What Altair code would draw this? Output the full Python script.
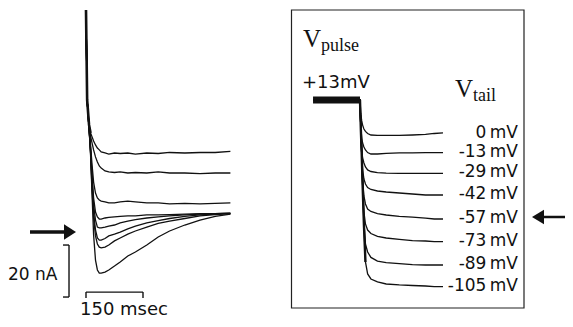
import altair as alt
import pandas as pd

# ---------------- Left panel: tail currents (nA) vs time (ms) ----------------
t_ms = [0, 3, 8, 12, 16, 20, 25, 30, 35, 40, 50, 60, 75, 90, 110, 130, 160, 190, 220, 260, 300, 340, 380]

i_0mV    = [85.0, 50.4, 40.8, 37.7, 36.2, 34.6, 33.1, 31.9, 31.2, 30.4, 30.0, 29.6, 30.0, 29.8, 30.0, 29.6, 30.0, 29.8, 30.2, 30.0, 30.2, 30.2, 30.6]
i_m13mV  = [85.0, 50.4, 40.8, 36.5, 33.8, 31.2, 28.5, 26.5, 25.0, 24.2, 23.1, 22.7, 22.5, 22.7, 22.3, 22.5, 22.3, 22.7, 22.3, 22.3, 22.1, 22.3, 22.3]
i_m29mV  = [85.0, 50.4, 39.6, 33.1, 25.4, 18.8, 14.6, 12.7, 11.9, 11.5, 11.2, 10.8, 10.8, 11.2, 11.5, 11.2, 10.8, 10.8, 10.4, 10.6, 10.4, 10.6, 10.8]
i_m42mV  = [85.0, 50.4, 39.6, 31.9, 21.5, 12.7, 7.3, 5.4, 4.6, 4.6, 5.0, 5.2, 5.4, 5.6, 5.8, 5.8, 6.2, 6.2, 6.3, 6.5, 6.7, 6.7, 6.9]
i_m57mV  = [85.0, 50.4, 39.6, 31.2, 19.6, 10.0, 4.2, 1.5, 1.2, 1.2, 1.5, 1.9, 2.3, 3.1, 3.8, 4.4, 5.0, 5.4, 5.8, 6.2, 6.5, 6.7, 6.9]
i_m73mV  = [85.0, 50.4, 39.6, 30.4, 17.7, 7.3, 0.4, -2.7, -3.5, -3.5, -2.9, -1.9, -1.2, -0.4, 0.8, 1.9, 3.1, 4.0, 4.8, 5.6, 6.2, 6.5, 6.7]
i_m89mV  = [85.0, 50.4, 39.6, 30.0, 15.8, 5.0, -1.9, -5.0, -6.2, -6.5, -6.2, -5.4, -3.8, -2.7, -1.2, 0.0, 1.5, 2.9, 3.8, 4.8, 5.8, 6.3, 6.7]
i_m105mV = [85.0, 50.4, 39.6, 29.2, 13.8, -1.5, -11.2, -15.0, -16.2, -16.2, -15.8, -15.0, -13.5, -11.9, -9.6, -8.1, -5.4, -2.3, 0.0, 2.3, 4.2, 5.6, 6.5]

zero_current_nA = -0.4        # level marked by the left arrow
scale_time_ms = 150           # time scale bar
scale_current_nA = 20         # current scale bar

# ---------------- Right panel: voltage protocol (mV) vs time (ms) ----------------
vt_ms = [-215, 0, 4, 8, 12, 18, 25, 35, 50, 80, 120, 180, 240, 300, 340, 380]

v_0mV    = [13, 13, 7.3, 5.0, 3.4, 1.9, 1.0, 0.2, -0.7, -1.0, -1.0, -1.0, -0.7, -0.3, 0.2, 0.4]
v_m13mV  = [13, 13, 2.3, -2.8, -6.3, -9.0, -11.1, -12.9, -14.0, -14.0, -13.6, -13.2, -13.2, -13, -13, -13]
v_m29mV  = [13, 13, 1.5, -11.1, -17.1, -21.0, -24.1, -26.4, -27.6, -28.4, -28.8, -29, -29, -29, -29, -29]
v_m42mV  = [13, 13, 1.5, -14.8, -26.4, -32.4, -35.4, -37.5, -38.7, -39.6, -40.2, -40.8, -41.4, -42, -42, -42]
v_m57mV  = [13, 13, 1.5, -14.8, -33.0, -42.6, -47.6, -50.8, -52.3, -53.6, -54.5, -55.4, -55.8, -56.4, -57, -57]
v_m73mV  = [13, 13, 1.5, -14.8, -34.8, -52.6, -60.5, -64.8, -67.2, -69.3, -70.4, -71.4, -72.2, -72.5, -73, -73]
v_m89mV  = [13, 13, 1.5, -14.8, -36.0, -59.1, -74.6, -80.1, -83.8, -86.3, -87.3, -88.0, -88.7, -89, -89, -89]
v_m105mV = [13, 13, 1.5, -14.8, -36.0, -61.2, -86.9, -95.6, -99.3, -101.5, -103.0, -103.7, -104.1, -104.5, -105, -105]

tail_levels = [0, -13, -29, -42, -57, -73, -89, -105]
tail_labels = ["0\u2009mV", "-13\u2009mV", "-29\u2009mV", "-42\u2009mV", "-57\u2009mV", "-73\u2009mV", "-89\u2009mV", "-105\u2009mV"]
pulse_mV = 13
pulse_start_ms = -215
arrow_level_mV = -57

# ---------------- build tables ----------------
cur_series = [i_0mV, i_m13mV, i_m29mV, i_m42mV, i_m57mV, i_m73mV, i_m89mV, i_m105mV]
volt_series = [v_0mV, v_m13mV, v_m29mV, v_m42mV, v_m57mV, v_m73mV, v_m89mV, v_m105mV]

cur_rows = []
for lab, s in zip(tail_labels, cur_series):
    for t, v in zip(t_ms, s):
        cur_rows.append({"trace": lab, "t": t, "I": v})
cur_df = pd.DataFrame(cur_rows)

volt_rows = []
for lab, s in zip(tail_labels, volt_series):
    for t, v in zip(vt_ms, s):
        volt_rows.append({"trace": lab, "t": t, "V": v})
volt_df = pd.DataFrame(volt_rows)

W, H = 557, 311
BLACK = "#111111"
SANS = "DejaVu Sans"
SERIF = "Liberation Serif"
one = pd.DataFrame({"k": [0]})

# ---------------- left panel (own scales) ----------------
xL = alt.Scale(domain=[-205.26, 1260.53], nice=False, zero=False)
yL = alt.Scale(domain=[-33.85, 85.77], nice=False, zero=False)

traces_L = alt.Chart(cur_df).mark_line(color=BLACK, strokeWidth=1.3).encode(
    x=alt.X("t:Q", scale=xL, axis=None),
    y=alt.Y("I:Q", scale=yL, axis=None),
    detail="trace:N",
    order=alt.Order("t:Q"),
)
spike_L = alt.Chart(cur_df).transform_filter(
    (alt.datum.t <= 12) & (alt.datum.trace == tail_labels[0])
).mark_line(color=BLACK, strokeWidth=2.6).encode(
    x=alt.X("t:Q", scale=xL, axis=None),
    y=alt.Y("I:Q", scale=yL, axis=None),
    order=alt.Order("t:Q"),
)

vbar_t = -44.7
vbar_top = -5.4
hbar_I = -23.5
tick_t = -60.5
bars_df = pd.DataFrame([
    {"t1": vbar_t, "t2": vbar_t, "i1": vbar_top, "i2": vbar_top - scale_current_nA},
    {"t1": tick_t, "t2": vbar_t, "i1": vbar_top, "i2": vbar_top},
    {"t1": tick_t, "t2": vbar_t, "i1": vbar_top - scale_current_nA, "i2": vbar_top - scale_current_nA},
    {"t1": 0, "t2": scale_time_ms, "i1": hbar_I, "i2": hbar_I},
    {"t1": 0, "t2": 0, "i1": hbar_I, "i2": hbar_I - 2.3},
    {"t1": scale_time_ms, "t2": scale_time_ms, "i1": hbar_I, "i2": hbar_I - 2.3},
])
bars_L = alt.Chart(bars_df).mark_rule(color=BLACK, strokeWidth=1.4).encode(
    x=alt.X("t1:Q", scale=xL, axis=None), x2="t2:Q",
    y=alt.Y("i1:Q", scale=yL, axis=None), y2="i2:Q",
)

arrow_shaft_L = alt.Chart(one).mark_rule(color=BLACK, strokeWidth=3.5).encode(
    x=alt.value(22), x2=alt.value(60),
    y=alt.datum(zero_current_nA, scale=yL, axis=None),
)
arrow_head_L = alt.Chart(one).mark_point(
    shape="M-1,-1.3L1,0L-1,1.3Z", filled=True, color=BLACK, opacity=1, size=144
).encode(
    x=alt.value(62),
    y=alt.datum(zero_current_nA, scale=yL, axis=None),
)

def txt(s, x, y, font, size, align="left"):
    return alt.Chart(one).mark_text(
        text=s, font=font, fontSize=size, align=align, baseline="alphabetic", color=BLACK
    ).encode(x=alt.value(x), y=alt.value(y))

txt_nA = txt("20 nA", 0, 272, SANS, 17)
txt_ms = txt("150 msec", 72, 307, SANS, 18)

left = alt.layer(traces_L, spike_L, bars_L, arrow_shaft_L, arrow_head_L, txt_nA, txt_ms)

# ---------------- right panel (own scales) ----------------
xR = alt.Scale(domain=[-1611.6, 938.6], nice=False, zero=False)
yR = alt.Scale(
    domain=[-105, -89, -73, -57, -42, -29, -13, 0, 13],
    range=[278.7, 257, 233.7, 211, 187, 165.3, 144.7, 126, 92],
    nice=False, zero=False,
)

box_R = alt.Chart(one).mark_rect(
    fillOpacity=0, stroke="#222222", strokeWidth=1.2
).encode(x=alt.value(283.5), x2=alt.value(516), y=alt.value(2), y2=alt.value(300))

pulse_df = pd.DataFrame({"t1": [pulse_start_ms], "t2": [0], "V": [pulse_mV]})
pulse_R = alt.Chart(pulse_df).mark_rule(color=BLACK, strokeWidth=7).encode(
    x=alt.X("t1:Q", scale=xR, axis=None), x2="t2:Q",
    y=alt.Y("V:Q", scale=yR, axis=None),
)
traces_R = alt.Chart(volt_df).mark_line(color=BLACK, strokeWidth=1.3).encode(
    x=alt.X("t:Q", scale=xR, axis=None),
    y=alt.Y("V:Q", scale=yR, axis=None),
    detail="trace:N",
    order=alt.Order("t:Q"),
)
drop_R = alt.Chart(volt_df).transform_filter(
    (alt.datum.t >= 0) & (alt.datum.t <= 25) & (alt.datum.trace == tail_labels[-1])
).mark_line(color=BLACK, strokeWidth=2.4).encode(
    x=alt.X("t:Q", scale=xR, axis=None),
    y=alt.Y("V:Q", scale=yR, axis=None),
    order=alt.Order("t:Q"),
)
lab_df = pd.DataFrame({"V": tail_levels, "label": tail_labels})
labels_R = alt.Chart(lab_df).mark_text(
    font=SANS, fontSize=17, align="right", baseline="middle", dy=-1, color=BLACK
).encode(
    x=alt.value(510),
    y=alt.Y("V:Q", scale=yR, axis=None),
    text="label:N",
)

v_pulse = txt("V", 295, 38.5, SERIF, 25)
sub_pulse = txt("pulse", 313, 43, SERIF, 18)
v_tail = txt("V", 447, 88.5, SERIF, 25)
sub_tail = txt("tail", 465, 93, SERIF, 18)
p13 = txt("+13mV", 294, 80, SANS, 18)

arrow_shaft_R = alt.Chart(one).mark_rule(color=BLACK, strokeWidth=2.5, yOffset=-2).encode(
    x=alt.value(534), x2=alt.value(557),
    y=alt.datum(arrow_level_mV, scale=yR, axis=None),
)
arrow_head_R = alt.Chart(one).mark_point(
    shape="M1,-1.2L-1,0L1,1.2Z", filled=True, color=BLACK, opacity=1, size=144, yOffset=-2
).encode(
    x=alt.value(530),
    y=alt.datum(arrow_level_mV, scale=yR, axis=None),
)

right = alt.layer(
    box_R, pulse_R, traces_R, drop_R, labels_R, v_pulse, sub_pulse, v_tail, sub_tail, p13,
    arrow_shaft_R, arrow_head_R
)

chart = alt.layer(left, right).resolve_scale(
    x="independent", y="independent"
).properties(
    width=W, height=H, padding=0,
    autosize=alt.AutoSizeParams(type="none"),
    background="white",
).configure_view(stroke=None)

chart.save("out.html", embed_options={"renderer": "svg", "actions": False})
